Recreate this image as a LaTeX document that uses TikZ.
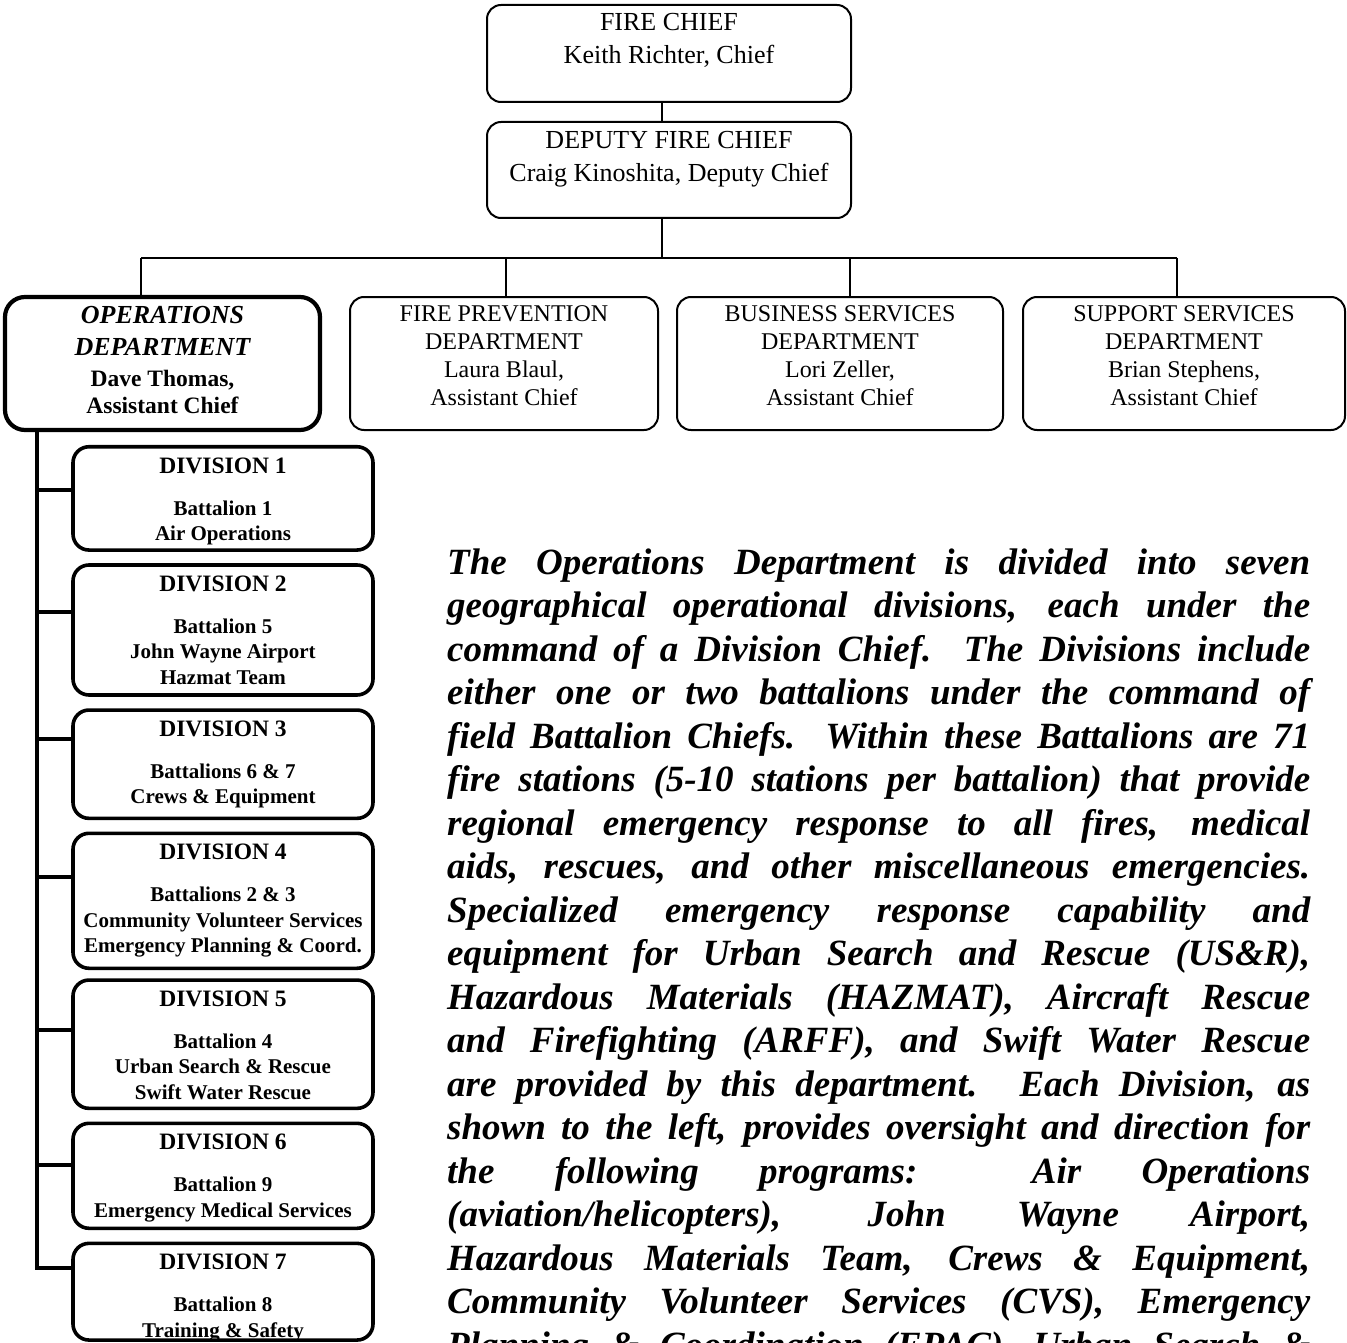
\documentclass[tikz,border=0pt]{standalone}
\usepackage{fontspec}
\setmainfont{Liberation Serif}
\newcommand{\bxt}[5]{\parbox[c][#2][t]{#1}{\centering #3\rule{0pt}{#4}#5}}
\newcommand{\divtxt}[3]{\parbox[c][#1][t]{300pt}{\centering\bfseries\fontsize{23.5}{25.5}\selectfont\rule{0pt}{26.6pt}#2\\[16.2pt]\fontsize{21}{25.5}\selectfont #3}}
\tikzset{
 conn/.style={line width=2pt},
 thk/.style={line width=3.6pt},
 topbox/.style={draw, line width=2pt, rounded corners=14pt, inner sep=0pt},
 opsbox/.style={draw, line width=4.2pt, rounded corners=20pt, inner sep=0pt},
 divbox/.style={draw, line width=3.6pt, rounded corners=16pt, inner sep=0pt},
 para/.style={anchor=base west, inner sep=0pt}
}
\begin{document}
\begin{tikzpicture}[x=1pt,y=-1pt]
\useasboundingbox (0,0) rectangle (1347,1343);
\clip (0,0) rectangle (1347,1343);
\fill[white] (0,0) rectangle (1347,1343);

% top boxes
\node[topbox] (chief) at (669,53.5) {\bxt{364pt}{97pt}{\fontsize{26}{33}\selectfont}{25.6pt}{FIRE CHIEF\\Keith Richter, Chief}};
\node[topbox] (deputy) at (669,170) {\bxt{364pt}{96pt}{\fontsize{26}{32.5}\selectfont}{26.6pt}{DEPUTY FIRE CHIEF\\Craig Kinoshita, Deputy Chief}};

% departments
\node[opsbox] (ops) at (162.5,363.5) {\bxt{315pt}{133pt}{\bfseries\itshape\fontsize{26}{27}\selectfont}{26.6pt}{OPERATIONS\\[5pt]DEPARTMENT\\[3.4pt]\upshape\fontsize{23.5}{27}\selectfont Dave Thomas,\\Assistant Chief}};
\node[topbox] (fire) at (504,363.5) {\bxt{308pt}{133pt}{\fontsize{24}{28}\selectfont}{24.5pt}{FIRE PREVENTION\\DEPARTMENT\\Laura Blaul,\\Assistant Chief}};
\node[topbox] (bus) at (840,363.5) {\bxt{326pt}{133pt}{\fontsize{24}{28}\selectfont}{24.5pt}{BUSINESS SERVICES\\DEPARTMENT\\Lori Zeller,\\Assistant Chief}};
\node[topbox] (sup) at (1184,363.5) {\bxt{322pt}{133pt}{\fontsize{24}{28}\selectfont}{24.5pt}{SUPPORT SERVICES\\DEPARTMENT\\Brian Stephens,\\Assistant Chief}};

% connectors top
\coordinate (dj) at (662,258);
\coordinate (b1) at (141,258);
\coordinate (b2) at (506,258);
\coordinate (b3) at (850,258);
\coordinate (b4) at (1177,258);
\draw[conn] (dj |- chief.south) -- (dj |- deputy.north);
\draw[conn] (dj |- deputy.south) -- (dj);
\draw[conn] (b1) -- (b4);
\draw[conn] (b1) -- (b1 |- ops.north);
\draw[conn] (b2) -- (b2 |- fire.north);
\draw[conn] (b3) -- (b3 |- bus.north);
\draw[conn] (b4) -- (b4 |- sup.north);

% divisions
\node[divbox] (d1) at (223,498.4) {\divtxt{103.3pt}{DIVISION 1}{Battalion 1\\Air Operations}};
\node[divbox] (d2) at (223,630) {\divtxt{130pt}{DIVISION 2}{Battalion 5\\John Wayne Airport\\Hazmat Team}};
\node[divbox] (d3) at (223,764.2) {\divtxt{108.3pt}{DIVISION 3}{Battalions 6 \& 7\\Crews \& Equipment}};
\node[divbox] (d4) at (223,900.8) {\divtxt{135pt}{DIVISION 4}{Battalions 2 \& 3\\Community Volunteer Services\\Emergency Planning \& Coord.}};
\node[divbox] (d5) at (223,1044.2) {\divtxt{128.3pt}{DIVISION 5}{Battalion 4\\Urban Search \& Rescue\\Swift Water Rescue}};
\node[divbox] (d6) at (223,1175.8) {\divtxt{105pt}{DIVISION 6}{Battalion 9\\Emergency Medical Services}};
\node[divbox] (d7) at (223,1291.7) {\divtxt{96.7pt}{DIVISION 7}{Battalion 8\\Training \& Safety}};

\coordinate (c1) at (37,490);
\coordinate (c2) at (37,612);
\coordinate (c3) at (37,739);
\coordinate (c4) at (37,877);
\coordinate (c5) at (37,1030);
\coordinate (c6) at (37,1165);
\coordinate (c7) at (37,1268);
\draw[thk] (c7 |- ops.south) -- (c7) -- (c7 -| d7.west);
\foreach \i in {1,...,6}{\draw[thk] (c\i) -- (c\i -| d\i.west);}

% paragraph
\node[para] (text) at (447,574) {\parbox[t]{863pt}{\fontsize{37}{43.5}\selectfont\bfseries\itshape\hbadness=10000\hfuzz=20pt\tolerance=10000\parfillskip=0pt
The Operations Department is divided into seven\linebreak
geographical operational divisions, each under the\linebreak
command of a Division Chief.  The Divisions include\linebreak
either one or two battalions under the command of\linebreak
field Battalion Chiefs.  Within these Battalions are 71\linebreak
fire stations (5-10 stations per battalion) that provide\linebreak
regional emergency response to all fires, medical\linebreak
aids, rescues, and other miscellaneous emergencies.\linebreak
Specialized emergency response capability and\linebreak
equipment for Urban Search and Rescue (US\&R),\linebreak
Hazardous Materials (HAZMAT), Aircraft Rescue\linebreak
and Firefighting (ARFF), and Swift Water Rescue\linebreak
are provided by this department.  Each Division, as\linebreak
shown to the left, provides oversight and direction for\linebreak
the following programs: Air Operations\linebreak
(aviation/helicopters), John Wayne Airport,\linebreak
Hazardous Materials Team, Crews \& Equipment,\linebreak
Community Volunteer Services (CVS), Emergency\linebreak
Planning \& Coordination (EPAC), Urban Search \&}};
\end{tikzpicture}
\end{document}
